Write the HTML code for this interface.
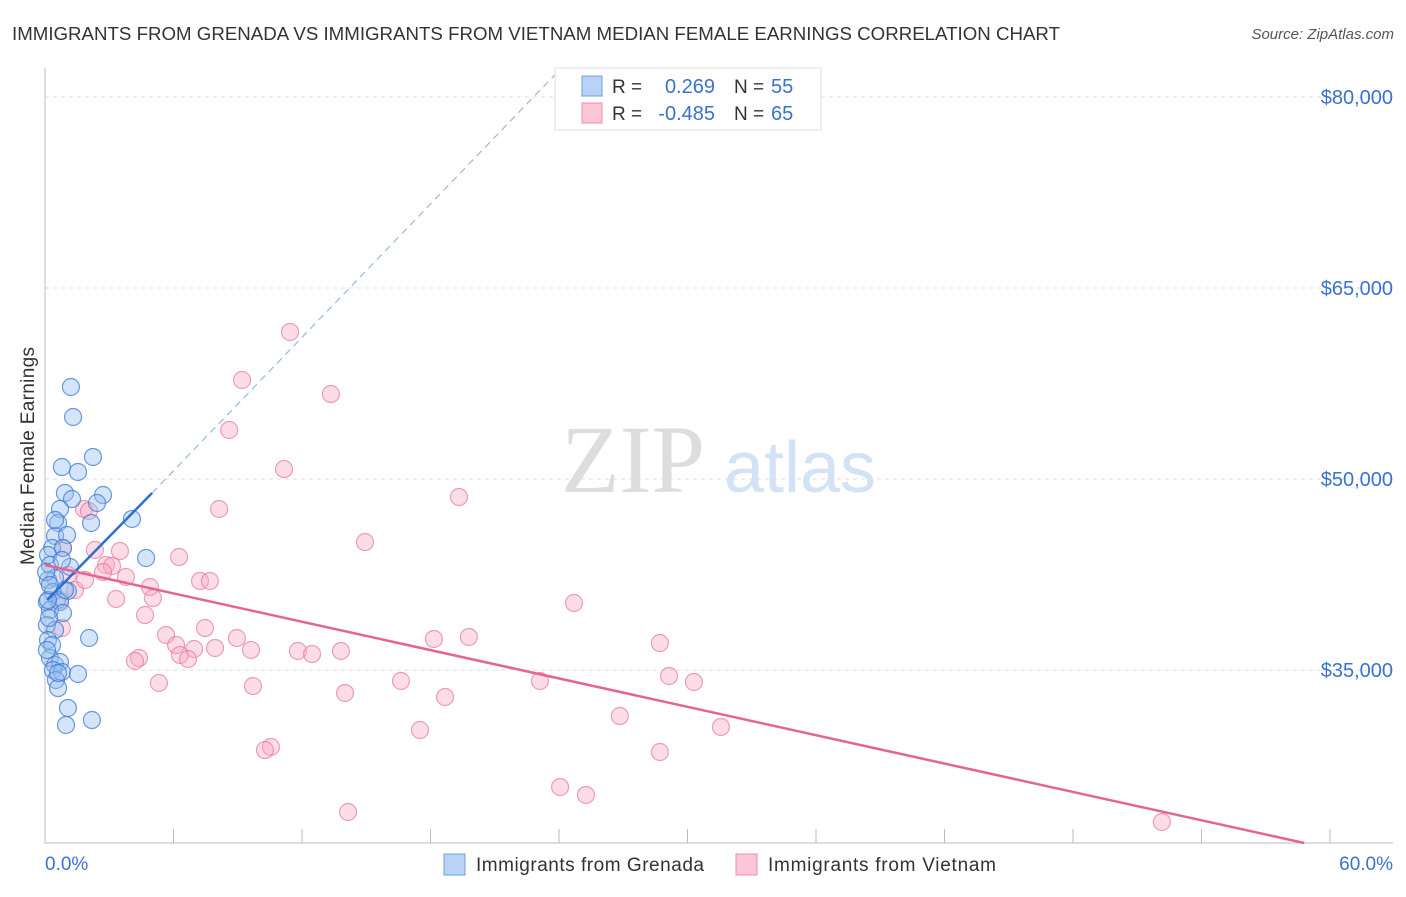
<!DOCTYPE html><html><head><meta charset="utf-8"><style>body{margin:0;background:#fff;font-family:"Liberation Sans",sans-serif}</style></head><body>
<svg id="c" width="1406" height="892" xmlns="http://www.w3.org/2000/svg">
<text x="12" y="40" font-size="18" fill="#333" textLength="1048" lengthAdjust="spacingAndGlyphs">IMMIGRANTS FROM GRENADA VS IMMIGRANTS FROM VIETNAM MEDIAN FEMALE EARNINGS CORRELATION CHART</text>
<text x="1394" y="39" font-size="15" fill="#555" font-style="italic" text-anchor="end">Source: ZipAtlas.com</text>
<text x="633" y="492" font-size="96" fill="#ddd" font-family="Liberation Serif" text-anchor="middle">ZIP</text>
<text x="800" y="492" font-size="72" fill="#d4e2f5" text-anchor="middle">atlas</text>
<text transform="translate(34,456) rotate(-90)" font-size="19" fill="#333" text-anchor="middle" textLength="218">Median Female Earnings</text>
<g id="grid"></g><g id="pts"></g><g id="lines"></g>
<g>
<rect x="555" y="68" width="266" height="62" fill="#fff" stroke="#ddd"/>
<rect x="582" y="76" width="20" height="20" fill="#b8d3f5" stroke="#6a9fe0"/>
<rect x="582" y="103" width="20" height="20" fill="#fcc6d6" stroke="#ec8eab"/>
<text x="612" y="93" font-size="19" fill="#333">R =</text>
<text x="715" y="93" font-size="20" fill="#3a72d0" text-anchor="end">0.269</text>
<text x="734" y="93" font-size="19" fill="#333">N =</text>
<text x="771" y="93" font-size="20" fill="#3a72d0">55</text>
<text x="612" y="120" font-size="19" fill="#333">R =</text>
<text x="715" y="120" font-size="20" fill="#3a72d0" text-anchor="end">-0.485</text>
<text x="734" y="120" font-size="19" fill="#333">N =</text>
<text x="771" y="120" font-size="20" fill="#3a72d0">65</text>
</g>
<g>
<rect x="444" y="854" width="21" height="21" fill="#b8d3f5" stroke="#6a9fe0"/>
<text x="476" y="871" font-size="19" fill="#333" textLength="228">Immigrants from Grenada</text>
<rect x="736" y="854" width="21" height="21" fill="#fcc6d6" stroke="#ec8eab"/>
<text x="768" y="871" font-size="19" fill="#333" textLength="228">Immigrants from Vietnam</text>
</g>
</svg>
<script>
const yTicks=[80000,65000,50000,35000];
const yTickLabels=["$80,000","$65,000","$50,000","$35,000"];
const xTickLabels=["0.0%","60.0%"];
const blueX=[1.21,1.31,0.79,2.24,1.54,2.71,0.93,2.43,1.26,0.7,0.61,2.15,4.06,0.47,1.03,0.33,0.84,4.72,0.14,0.23,1.17,0.47,0.14,1.07,0.37,0.56,0.09,0.7,0.23,0.84,0.09,0.47,0.14,2.06,0.33,0.23,0.47,0.7,0.37,0.79,1.54,0.51,0.61,1.07,2.19,0.98,0.14,0.05,0.23,0.47,0.09,0.61,0.19,0.93,0.79];
const blueY=[57225,54869,50942,51728,50550,48743,48901,48115,48429,47644,46545,46545,46859,45524,45602,44581,44581,43796,44031,43246,43089,42225,42068,41204,41126,40497,40340,40340,39712,39476,38534,38141,37356,37513,36963,35942,35393,35628,35000,34843,34686,34215,33586,32016,31073,30681,40497,42696,41675,46780,36571,34764,39084,41283,43639];
const pinkX=[11.44,9.2,13.35,8.6,11.16,19.33,8.13,1.82,2.05,14.94,0.84,2.33,3.5,6.26,2.85,3.13,1.07,2.71,3.78,4.9,7.24,7.7,5.04,3.32,4.67,24.7,7.47,5.65,8.96,18.16,19.79,28.71,6.12,6.96,7.94,9.62,6.3,6.68,11.81,12.47,13.82,4.39,4.2,29.14,30.3,16.62,23.11,5.32,9.71,14.01,18.68,26.84,31.56,17.51,10.55,10.27,28.71,24.05,25.26,14.15,52.15,0.79,0.7,1.4,1.87];
const pinkY=[61545,57775,56675,53848,50785,48586,47644,47644,47487,45052,44581,44424,44345,43874,43246,43168,42461,42696,42304,41518,41990,41990,40654,40576,39319,40262,38298,37749,37513,37435,37592,37120,36963,36649,36728,36571,36178,35864,36492,36256,36492,35942,35707,34529,34058,34136,34136,33979,33743,33194,32880,31387,30524,30288,28953,28717,28560,25812,25184,23848,23063,38298,40497,41283,42068];
const X=v=>45+v/60*1285, Y=v=>97+(80000-v)/15000*191;
const NS="http://www.w3.org/2000/svg";
function mk(t,a,p){const e=document.createElementNS(NS,t);for(const k in a)e.setAttribute(k,a[k]);p.appendChild(e);return e;}
const g=document.getElementById('grid');
yTicks.forEach((v,i)=>{const l=mk('line',{x1:45,x2:1393,y1:Y(v),y2:Y(v),stroke:'#ddd','stroke-dasharray':'4,4'},g);


const t=mk('text',{x:1393,y:Y(v)+7,'font-size':20,fill:'#3a72d0','text-anchor':'end'},g);t.textContent=yTickLabels[i];

});
const ax=mk('line',{x1:45,x2:45,y1:68,y2:843,stroke:'#bbb'},g);


const bx=mk('line',{x1:45,x2:1393,y1:843,y2:843,stroke:'#bbb'},g);


for(let i=1;i<=10;i++){const l=mk('line',{x1:X(i*6),x2:X(i*6),y1:829,y2:843,stroke:'#bbb'},g);

}
[[0,'start',45],[60,'end',1393]].forEach((d,i)=>{const t=mk('text',{x:d[2],y:870,'font-size':19,fill:'#3a72d0','text-anchor':d[1]},g);t.textContent=xTickLabels[i];

});
const p=document.getElementById('pts');
pinkX.forEach((v,i)=>{const c=mk('circle',{cx:X(v),cy:Y(pinkY[i]),r:8.5,fill:'rgba(248,170,195,0.4)',stroke:'rgba(230,120,155,0.7)','stroke-width':1.2},p);

});
blueX.forEach((v,i)=>{const c=mk('circle',{cx:X(v),cy:Y(blueY[i]),r:8.5,fill:'rgba(150,190,240,0.4)',stroke:'rgba(60,120,210,0.75)','stroke-width':1.2},p);

});
const L=document.getElementById('lines');
const b1=mk('line',{x1:X(0.1),y1:Y(40497),x2:X(5),y2:Y(48901),stroke:'#2f6fd0','stroke-width':2.5},L);


const b2=mk('line',{x1:X(5),y1:Y(48901),x2:X(23.8),y2:Y(81728),stroke:'#9bb8e0','stroke-width':1.2,'stroke-dasharray':'7,5'},L);


const pl=mk('line',{x1:X(0),y1:Y(43246),x2:X(58.8),y2:Y(21414),stroke:'#e4668f','stroke-width':2.5},L);


</script></body></html>
